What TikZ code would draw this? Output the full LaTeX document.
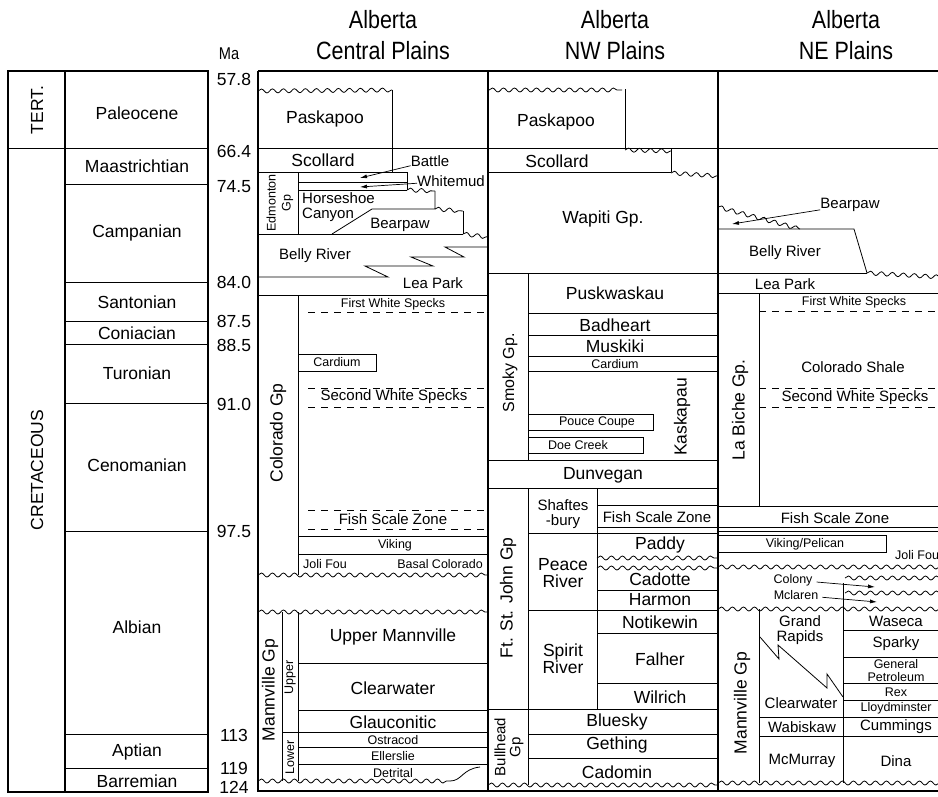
\documentclass[tikz,border=0pt]{standalone}
\usepackage{fontspec}
\setmainfont{Liberation Sans}
\newfontfamily\headfont[FakeStretch=0.86]{Liberation Sans}
\usetikzlibrary{arrows.meta,decorations.pathmorphing}

\begin{document}
\begin{tikzpicture}[x=1pt,y=-1pt,
  big/.style={inner sep=0pt,align=center,font=\fontsize{17.5}{17}\selectfont},
  med/.style={inner sep=0pt,align=center,font=\fontsize{15}{15}\selectfont},
  sml/.style={inner sep=0pt,align=center,font=\fontsize{12.5}{13}\selectfont},
  head/.style={inner sep=0pt,align=center,font=\headfont\fontsize{25}{30}\selectfont},
  heavy/.style={line width=2pt},
  bed/.style={line width=0.8pt},
  wavy/.style={bed,decorate,decoration={snake,amplitude=2pt,segment length=11pt}},
  marker/.style={bed,dash pattern=on 7pt off 6pt},
  arrow/.style={-{Latex[length=7pt,width=4pt]},line width=0.7pt}
]
\useasboundingbox (0,0) rectangle (938,796);
\clip (0,0) rectangle (938,796);

% headings
\node[head] (hcen1) at (383,20) {Alberta};
\node[head] (hcen2) at (383,51) {Central Plains};
\node[head] (hnw1) at (615,20) {Alberta};
\node[head] (hnw2) at (615,51) {NW Plains};
\node[head] (hne1) at (846,20) {Alberta};
\node[head] (hne2) at (846,51) {NE Plains};
\node[med,font=\headfont\fontsize{17}{17}\selectfont] (ma) at (229,54) {Ma};

% time scale
\draw[heavy] (8,71) rectangle (208,792);
\draw[heavy] (65,71) -- (65,792);
\draw[bed] (8,148) -- (208,148);
\draw[bed] (65,184) -- (208,184);
\draw[bed] (65,282) -- (208,282);
\draw[bed] (65,321) -- (208,321);
\draw[bed] (65,344) -- (208,344);
\draw[bed] (65,403) -- (208,403);
\draw[bed] (65,531) -- (208,531);
\draw[bed] (65,734) -- (208,734);
\draw[bed] (65,768) -- (208,768);
\node[big,rotate=90] (tert) at (37,110) {TERT.};
\node[big,rotate=90] (cret) at (37,470) {CRETACEOUS};
\node[big] (paleo) at (137,113) {Paleocene};
\node[big] (maas) at (137,166) {Maastrichtian};
\node[big] (camp) at (137,233) {Campanian};
\node[big] (sant) at (137,302) {Santonian};
\node[big] (coni) at (137,333) {Coniacian};
\node[big] (turo) at (137,373) {Turonian};
\node[big] (ceno) at (137,465) {Cenomanian};
\node[big] (albi) at (137,627) {Albian};
\node[big] (apti) at (137,752) {Aptian};
\node[big] (barr) at (137,781) {Barremian};
\node[big] (ma578) at (234,79) {57.8};
\node[big] (ma664) at (234,151) {66.4};
\node[big] (ma745) at (234,187) {74.5};
\node[big] (ma840) at (234,282) {84.0};
\node[big] (ma875) at (234,321) {87.5};
\node[big] (ma885) at (234,345) {88.5};
\node[big] (ma910) at (234,404) {91.0};
\node[big] (ma975) at (234,531) {97.5};
\node[big] (ma113) at (234,735) {113};
\node[big] (ma119) at (234,768) {119};
\node[big] (ma124) at (234,787) {124};

% chart frame
\draw[heavy] (258,71) -- (938,71);
\draw[heavy] (258,71) -- (258,791) -- (938,791);
\draw[heavy] (488,71) -- (488,791);
\draw[heavy] (718,71) -- (718,791);
\draw[bed] (258,148) -- (938,148);

% Central Plains
\draw[wavy] (258,91) -- (392,90);
\draw[bed] (392,90) -- (392,172);
\draw[bed] (258,172) -- (407,172);
\draw[bed] (298,172) -- (298,234);
\draw[bed] (298,182) -- (407,182);
\draw[bed] (298,190) -- (407,190);
\draw[bed] (407,172) -- (407,190);
\draw[wavy] (407,190) -- (435,191);
\draw[bed] (435,191) -- (435,209) -- (372,209) -- (332,234);
\draw[wavy] (435,209) -- (463,211);
\draw[bed] (463,211) -- (463,234);
\draw[bed] (258,234) -- (463,234);
\draw[wavy] (463,234) -- (488,237);
\draw[bed] (488,247) -- (445,247) -- (464,257) -- (411,257) -- (433,266)
  -- (365,266) -- (388,277) -- (258,277);
\draw[bed] (258,295) -- (488,295);
\draw[bed] (298,295) -- (298,575);
\draw[marker] (308,312) -- (488,312);
\draw[bed] (298,354) rectangle (376,371);
\draw[marker] (308,388) -- (488,388);
\draw[marker] (308,407) -- (488,407);
\draw[marker] (308,510) -- (488,510);
\draw[marker] (308,529) -- (488,529);
\draw[bed] (298,536) -- (488,536);
\draw[bed] (298,554) -- (488,554);
\draw[wavy] (258,575) -- (488,575);
\draw[wavy] (258,612) -- (488,612);
\draw[bed] (282,612) -- (282,781);
\draw[bed] (298,612) -- (298,781);
\draw[bed] (298,663) -- (488,663);
\draw[bed] (298,710) -- (488,710);
\draw[bed] (282,732) -- (488,732);
\draw[bed] (298,747) -- (488,747);
\draw[bed] (298,764) -- (488,764);
\draw[wavy] (258,781) -- (450,781);
\draw[bed] (450,781) .. controls (462,781) and (462,769) .. (480,767);

\node[big] (paskc) at (325,119) {Paskapoo};
\node[big] (scolc) at (323,160) {Scollard};
\node[med] (battle) at (430,161) {Battle};
\coordinate (battletip) at (360,178);
\node[med] (whitemud) at (451,181) {Whitemud};
\coordinate (whitemudtip) at (360,187);
\draw[arrow] (battle) -- (battletip);
\draw[arrow] (whitemud) -- (whitemudtip);
\node[sml,rotate=90,font=\fontsize{12.5}{15}\selectfont] (edm) at (280,203) {Edmonton\\Gp};
\node[med,anchor=west,align=left] (horse) at (302,207) {Horseshoe\\Canyon};
\node[med] (bearc) at (400,225) {Bearpaw};
\node[med] (bellyc) at (315,256) {Belly River};
\node[med] (leac) at (433,283) {Lea Park};
\node[sml] (fwsc) at (393,304) {First White Specks};
\node[sml] (cardc) at (337,362) {Cardium};
\node[big,rotate=90] (colgp) at (278,433) {Colorado Gp};
\node[med] (swsc) at (394,397) {Second White Specks};
\node[med] (fszc) at (393,519) {Fish Scale Zone};
\node[sml] (viking) at (395,545) {Viking};
\node[sml] (jolic) at (325,564) {Joli Fou};
\node[sml] (basal) at (440,564) {Basal Colorado};
\node[big,rotate=90] (mannc) at (270,690) {Mannville Gp};
\node[sml,rotate=90] (upper) at (290,677) {Upper};
\node[sml,rotate=90] (lower) at (290,757) {Lower};
\node[big] (uman) at (393,637) {Upper Mannville};
\node[big] (clearc) at (393,688) {Clearwater};
\node[big] (glauc) at (393,722) {Glauconitic};
\node[sml] (ostra) at (393,740) {Ostracod};
\node[sml] (eller) at (393,756) {Ellerslie};
\node[sml] (detri) at (393,773) {Detrital};

% NW Plains
\draw[wavy] (489,90) -- (622,90);
\draw[bed] (625,89) -- (625,148);
\draw[wavy] (625,150) -- (671,151);
\draw[bed] (671,148) -- (671,172);
\draw[bed] (488,172) -- (671,172);
\draw[wavy] (671,173) -- (718,176);
\draw[bed] (488,273) -- (718,273);
\draw[bed] (528,273) -- (528,460);
\draw[bed] (528,313) -- (718,313);
\draw[bed] (528,335) -- (718,335);
\draw[bed] (528,356) -- (718,356);
\draw[bed] (528,371) -- (718,371);
\draw[bed] (528,414) rectangle (653,430);
\draw[bed] (528,437) rectangle (643,453);
\draw[bed] (488,460) -- (718,460);
\draw[bed] (488,488) -- (718,488);
\draw[bed] (528,488) -- (528,709);
\draw[bed] (597,488) -- (597,709);
\draw[bed] (597,505) -- (718,505);
\draw[bed] (597,527) -- (718,527);
\draw[bed] (528,533) -- (718,533);
\draw[wavy] (597,558) -- (718,558);
\draw[wavy] (597,568) -- (718,568);
\draw[bed] (597,590) -- (718,590);
\draw[bed] (528,610) -- (718,610);
\draw[bed] (597,633) -- (718,633);
\draw[bed] (597,683) -- (718,683);
\draw[bed] (488,709) -- (718,709);
\draw[bed] (528,709) -- (528,785);
\draw[bed] (528,734) -- (718,734);
\draw[bed] (528,758) -- (718,758);
\draw[wavy] (488,785) -- (718,785);

\node[big] (paskn) at (556,122) {Paskapoo};
\node[big] (scoln) at (557,161) {Scollard};
\node[big] (wapiti) at (603,219) {Wapiti Gp.};
\node[med,rotate=90,font=\fontsize{16}{16}\selectfont] (smoky) at (510,373) {Smoky Gp.};
\node[big] (pusk) at (615,293) {Puskwaskau};
\node[big] (badh) at (615,325) {Badheart};
\node[big] (musk) at (615,346) {Muskiki};
\node[sml] (cardn) at (615,364) {Cardium};
\node[sml] (pouce) at (597,422) {Pouce Coupe};
\node[sml] (doe) at (578,445) {Doe Creek};
\node[big,rotate=90] (kask) at (682,417) {Kaskapau};
\node[big] (dunv) at (603,475) {Dunvegan};
\node[big,rotate=90] (ftsj) at (508,598) {Ft. St. John Gp};
\node[med] (shaft) at (563,514) {Shaftes\\-bury};
\node[med] (fszn) at (657,517) {Fish Scale Zone};
\node[big] (peace) at (563,573) {Peace\\River};
\node[big] (paddy) at (660,545) {Paddy};
\node[big] (cadot) at (660,579) {Cadotte};
\node[big] (harm) at (660,600) {Harmon};
\node[big] (spirit) at (563,659) {Spirit\\River};
\node[big] (notik) at (660,622) {Notikewin};
\node[big] (falh) at (660,659) {Falher};
\node[big] (wilr) at (660,697) {Wilrich};
\node[med,rotate=90] (bullh) at (509,747) {Bullhead\\Gp};
\node[big] (blues) at (617,722) {Bluesky};
\node[big] (geth) at (617,745) {Gething};
\node[big] (cadom) at (617,772) {Cadomin};

% NE Plains
\draw[wavy] (718,207) -- (800,229);
\draw[bed] (718,229) -- (854,229) -- (867,273);
\draw[bed] (718,273) -- (867,273);
\draw[wavy] (867,273) -- (940,277);
\draw[bed] (718,293) -- (938,293);
\draw[bed] (759,293) -- (759,506);
\draw[marker] (759,311) -- (938,311);
\draw[marker] (759,388) -- (938,388);
\draw[marker] (759,407) -- (938,407);
\draw[bed] (718,506) -- (938,506);
\draw[bed] (718,527) -- (938,527);
\draw[bed] (718,531) -- (938,531);
\draw[bed] (718,535) rectangle (886,552);
\draw[wavy] (718,567) -- (940,567);
\draw[bed] (843,583) -- (843,783);
\draw[wavy] (845,578) -- (940,578);
\draw[wavy] (845,593) -- (940,593);
\draw[wavy] (718,609) -- (940,609);
\draw[bed] (759,609) -- (759,783);
\draw[bed] (760,637) -- (779,659) -- (778,645) -- (827,688) -- (827,674) -- (843,697);
\draw[bed] (759,717) -- (938,717);
\draw[bed] (759,736) -- (938,736);
\draw[bed] (843,630) -- (938,630);
\draw[bed] (843,657) -- (938,657);
\draw[bed] (843,683) -- (938,683);
\draw[bed] (843,700) -- (938,700);
\draw[wavy] (718,783) -- (940,783);

\node[med] (bearne) at (850,205) {Bearpaw};
\coordinate (beartip) at (732,224);
\draw[arrow] (bearne) -- (beartip);
\node[med] (bellyne) at (785,253) {Belly River};
\node[med] (leane) at (785,284) {Lea Park};
\node[big,rotate=90] (labiche) at (740,410) {La Biche Gp.};
\node[sml] (fwsne) at (854,302) {First White Specks};
\node[med] (colsh) at (853,367) {Colorado Shale};
\node[med] (swsne) at (855,398) {Second White Specks};
\node[med] (fszne) at (835,518) {Fish Scale Zone};
\node[sml] (vikpel) at (805,544) {Viking/Pelican};
\node[sml,anchor=west] (jolne) at (895,555) {Joli Fou};
\node[sml] (colony) at (793,580) {Colony};
\coordinate (colonytip) at (875,587);
\draw[arrow,shorten <=4pt] (colony) -- (colonytip);
\node[sml] (mclar) at (796,595) {Mclaren};
\coordinate (mclartip) at (877,602);
\draw[arrow,shorten <=4pt] (mclar) -- (mclartip);
\node[big,rotate=90] (mannne) at (742,703) {Mannville Gp};
\node[med] (grand) at (800,630) {Grand\\Rapids};
\node[med] (clearne) at (801,703) {Clearwater};
\node[med] (wabis) at (802,727) {Wabiskaw};
\node[med] (mcmur) at (802,761) {McMurray};
\node[med] (waseca) at (896,621) {Waseca};
\node[med] (sparky) at (896,644) {Sparky};
\node[sml] (genpet) at (896,671) {General\\Petroleum};
\node[sml] (rex) at (896,692) {Rex};
\node[sml] (lloyd) at (896,708) {Lloydminster};
\node[med] (cumm) at (896,727) {Cummings};
\node[med] (dina) at (896,761) {Dina};
\end{tikzpicture}
\end{document}
